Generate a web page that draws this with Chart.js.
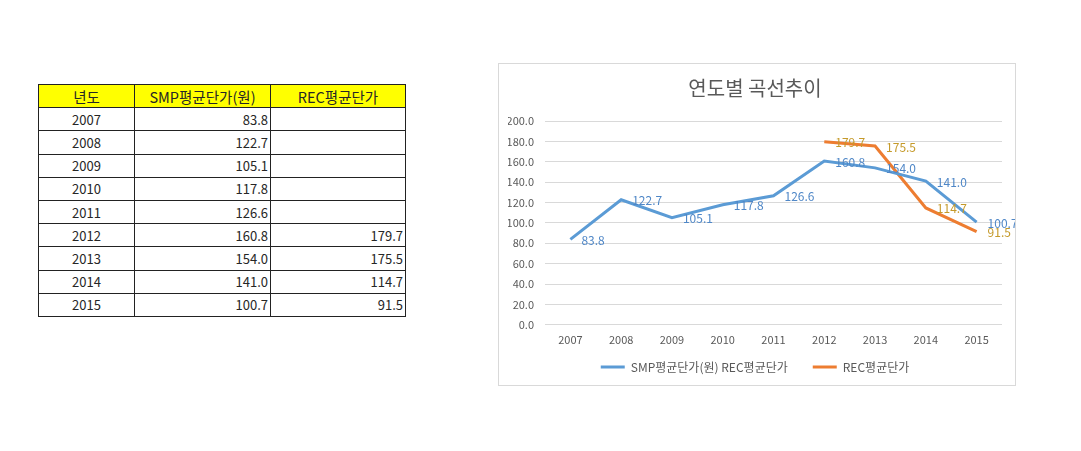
<!DOCTYPE html>
<html>
<head>
<meta charset="utf-8">
<script src="https://cdn.jsdelivr.net/npm/chart.js@4"></script>
<style>
  body {
    margin: 0;
    background: #fff;
    font-family: "Noto Sans CJK KR", "Noto Sans", sans-serif;
  }
  .sheet {
    position: absolute;
    left: 38px;
    top: 84px;
    border-collapse: collapse;
    font-size: 13px;
    color: #262626;
  }
  .sheet td, .sheet th {
    border: 1px solid #222;
    height: 22.2px;
    padding: 0 2px;
    font-weight: normal;
  }
  .sheet th {
    background: #ffff00;
    text-align: center;
    font-size: 14.5px;
  }
  .sheet td.yr { text-align: center; }
  .sheet td.num { text-align: right; }
  .chartBox {
    position: absolute;
    left: 498px;
    top: 63px;
    width: 518px;
    height: 323px;
    border: 1px solid #d9d9d9;
    box-sizing: border-box;
  }
</style>
</head>
<body>

<table class="sheet" id="sheet">
  <thead>
    <tr>
      <th style="width:91px">년도</th>
      <th style="width:131px">SMP평균단가(원)</th>
      <th style="width:130px">REC평균단가</th>
    </tr>
  </thead>
  <tbody></tbody>
</table>

<div class="chartBox">
  <canvas id="trendChart"></canvas>
</div>

<script>
const years = ["2007", "2008", "2009", "2010", "2011", "2012", "2013", "2014", "2015"];
const smpPrice = [83.8, 122.7, 105.1, 117.8, 126.6, 160.8, 154.0, 141.0, 100.7];
const recPrice = [null, null, null, null, null, 179.7, 175.5, 114.7, 91.5];

const smpLabel = "SMP평균단가(원) REC평균단가";
const recLabel = "REC평균단가";
const chartTitle = "연도별 곡선추이";

const fontFamily = '"Noto Sans CJK KR", "Noto Sans", sans-serif';
const axisGray = "#595959";

// spreadsheet rows
const tbody = document.querySelector("#sheet tbody");
years.forEach((y, i) => {
  const tr = document.createElement("tr");
  const rec = recPrice[i] == null ? "" : recPrice[i].toFixed(1);
  tr.innerHTML =
    `<td class="yr">${y}</td><td class="num">${smpPrice[i].toFixed(1)}</td><td class="num">${rec}</td>`;
  tbody.appendChild(tr);
});

// value labels to the right of every point
const labelColors = ["#4f87c7", "#c59a2a"];
const valueLabels = {
  id: "valueLabels",
  afterDatasetsDraw(chart) {
    const ctx = chart.ctx;
    ctx.save();
    ctx.font = "12px " + fontFamily;
    ctx.textAlign = "left";
    ctx.textBaseline = "middle";
    chart.data.datasets.forEach((ds, di) => {
      const meta = chart.getDatasetMeta(di);
      ctx.fillStyle = labelColors[di];
      meta.data.forEach((pt, i) => {
        const v = ds.data[i];
        if (v == null) return;
        ctx.fillText(v.toFixed(1), pt.x + 11, pt.y + 1);
      });
    });
    ctx.restore();
  },
};

const chartRef = document.getElementById("trendChart");
new Chart(chartRef, {
  type: "line",
  data: {
    labels: years,
    datasets: [
      {
        label: smpLabel,
        data: smpPrice,
        borderColor: "#5b9bd5",
        backgroundColor: "#5b9bd5",
        borderWidth: 3,
        pointRadius: 0,
        tension: 0,
      },
      {
        label: recLabel,
        data: recPrice,
        borderColor: "#ed7d31",
        backgroundColor: "#ed7d31",
        borderWidth: 3,
        pointRadius: 0,
        tension: 0,
      },
    ],
  },
  options: {
    responsive: true,
    maintainAspectRatio: false,
    animation: false,
    layout: {
      padding: { left: 9, right: 13, top: 0, bottom: 2 },
    },
    scales: {
      x: {
        offset: true,
        grid: { display: false, drawTicks: false },
        border: { display: false },
        ticks: {
          padding: 8,
          color: axisGray,
          font: { size: 11, family: fontFamily },
        },
      },
      y: {
        min: 0,
        max: 200,
        grid: { color: "#d9d9d9", drawTicks: false },
        border: { display: false },
        ticks: {
          stepSize: 20,
          padding: 11,
          color: axisGray,
          font: { size: 11, family: fontFamily },
          callback: (v) => v.toFixed(1),
        },
        afterFit: (scale) => {
          scale.width = 37;
        },
      },
    },
    plugins: {
      title: {
        display: true,
        text: chartTitle,
        color: axisGray,
        font: { size: 20, weight: "normal", family: fontFamily },
        padding: { top: 12, bottom: 21 },
      },
      legend: {
        position: "bottom",
        labels: {
          usePointStyle: true,
          pointStyle: "line",
          pointStyleWidth: 24,
          padding: 7,
          color: axisGray,
          font: { size: 12, family: fontFamily },
          generateLabels: (chart) => {
            const items = Chart.defaults.plugins.legend.labels.generateLabels(chart);
            // a little more room after the first entry, like the sheet
            items[0].text += "\u2003\u2002";
            return items;
          },
        },
      },
      tooltip: { enabled: false },
    },
  },
  plugins: [valueLabels],
});
</script>
</body>
</html>
